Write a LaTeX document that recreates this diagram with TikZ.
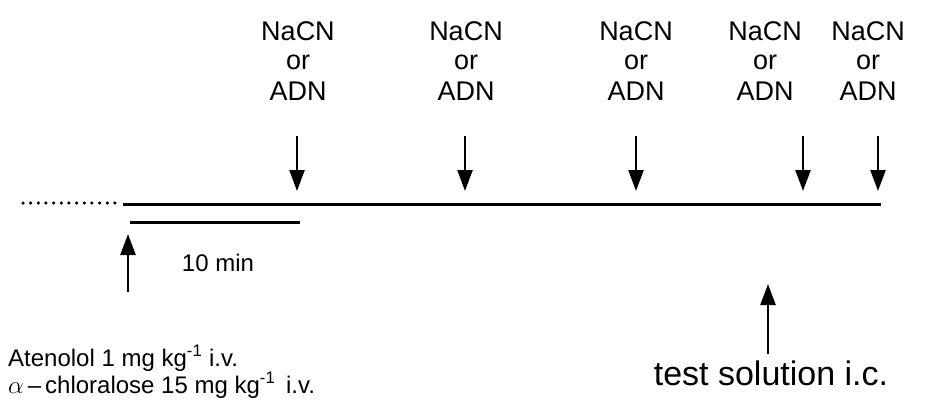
\documentclass[tikz,border=0pt]{standalone}
\usepackage{fontspec}
\setmainfont{Liberation Sans}
\usetikzlibrary{arrows.meta}
\begin{document}
\begin{tikzpicture}[x=1pt,y=-1pt,
  arr/.style={line width=2.4pt,-{Triangle[length=21pt,width=15pt]}},
  big/.style={font=\fontsize{27}{27}\selectfont,inner sep=0pt,anchor=base},
  test/.style={font=\fontsize{34}{34}\selectfont,inner sep=0pt,anchor=base},
  small/.style={font=\fontsize{24}{24}\selectfont,inner sep=0pt}]
\useasboundingbox (0,0) rectangle (933,399);
% timeline
\coordinate (d1) at (23,203);
\coordinate (d2) at (115,203);
\draw[line width=3.5pt,line cap=round,dash pattern=on 0pt off 7.66pt] (d1) -- (d2);
\coordinate (t0) at (123,204);
\coordinate (t1) at (881,204);
\draw[line width=3pt] (t0) -- (t1);
% scale bar
\coordinate (s0) at (130,222);
\coordinate (s1) at (300,222);
\draw[line width=3pt] (s0) -- (s1);
\node[small,anchor=base] (tenmin) at (218,271) {10 min};
% left up arrow
\coordinate (la0) at (128,292);
\coordinate (la1) at (128,234);
\draw[arr] (la0) -- (la1);
\node[small,anchor=base west] (aten1) at (8,366) {Atenolol 1 mg kg\textsuperscript{-1} i.v.};
\node[small,anchor=base west] (aten2) at (8,393) {$\alpha$\,--\,chloralose 15 mg kg\textsuperscript{-1}\, i.v.};
% labels
\foreach \n/\lx/\ax in {a/298/297, b/466/465, c/636/636, d/765/803, e/868/878}{
  \node[big] (na\n) at (\lx,40) {NaCN};
  \node[big] (or\n) at (\lx,69) {or};
  \node[big] (ad\n) at (\lx,100) {ADN};
  \coordinate (top\n) at (\ax,136);
  \coordinate (bot\n) at (\ax,191);
  \draw[arr] (top\n) -- (bot\n);
}
% test solution
\coordinate (ts0) at (768,354);
\coordinate (ts1) at (768,284);
\draw[arr] (ts0) -- (ts1);
\node[test] (test) at (771,385) {test solution i.c.};
\end{tikzpicture}
\end{document}
